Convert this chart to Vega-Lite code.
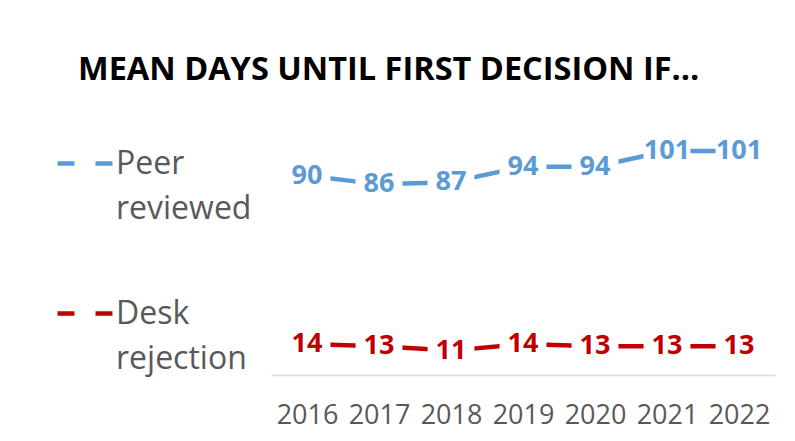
{
  "$schema": "https://vega.github.io/schema/vega-lite/v6.json",
  "autosize": "none",
  "width": 504,
  "height": 266,
  "padding": {"left": 271, "top": 109, "right": 20, "bottom": 66},
  "background": "white",
  "config": {
    "view": {"stroke": null},
    "font": "Open Sans"
  },
  "title": {
    "text": "MEAN DAYS UNTIL FIRST DECISION IF...",
    "anchor": "start",
    "frame": "group",
    "font": "Open Sans",
    "fontSize": 32.5,
    "fontWeight": "bold",
    "color": "#000000",
    "dx": -193,
    "dy": 31,
    "baseline": "alphabetic",
    "offset": 28
  },
  "data": {
    "values": [
      {"year": "2016", "series": "Peer reviewed", "value": 90},
      {"year": "2017", "series": "Peer reviewed", "value": 86},
      {"year": "2018", "series": "Peer reviewed", "value": 87},
      {"year": "2019", "series": "Peer reviewed", "value": 94},
      {"year": "2020", "series": "Peer reviewed", "value": 94},
      {"year": "2021", "series": "Peer reviewed", "value": 101},
      {"year": "2022", "series": "Peer reviewed", "value": 101},
      {"year": "2016", "series": "Desk rejection", "value": 14},
      {"year": "2017", "series": "Desk rejection", "value": 13},
      {"year": "2018", "series": "Desk rejection", "value": 11},
      {"year": "2019", "series": "Desk rejection", "value": 14},
      {"year": "2020", "series": "Desk rejection", "value": 13},
      {"year": "2021", "series": "Desk rejection", "value": 13},
      {"year": "2022", "series": "Desk rejection", "value": 13}
    ]
  },
  "encoding": {
    "x": {
      "field": "year",
      "type": "ordinal",
      "scale": {"type": "point", "padding": 0.5},
      "axis": {
        "title": null,
        "labelAngle": 0,
        "labelFont": "Open Sans",
        "labelFontSize": 27,
        "labelColor": "#595959",
        "labelPadding": 27,
        "ticks": false,
        "domainColor": "#D9D9D9",
        "domainWidth": 1.5,
        "grid": false
      }
    },
    "y": {
      "field": "value",
      "type": "quantitative",
      "scale": {"domain": [0, 120], "nice": false},
      "axis": null
    }
  },
  "layer": [
    {
      "mark": {"type": "line", "strokeWidth": 4.5, "strokeCap": "butt"},
      "encoding": {
        "color": {
          "field": "series",
          "type": "nominal",
          "scale": {"domain": ["Peer reviewed", "Desk rejection"], "range": ["#5B9BD5", "#C00000"]},
          "legend": {
            "orient": "none",
            "legendX": -216,
            "legendY": 24,
            "title": null,
            "symbolType": "stroke",
            "symbolSize": 3136,
            "symbolStrokeWidth": 4.5,
            "symbolDash": [17, 21],
            "labelFont": "Open Sans",
            "labelFontSize": 32,
            "labelColor": "#595959",
            "labelOffset": 0,
            "labelBaseline": "middle",
            "labelExpr": "datum.label == 'Peer reviewed' ? ['Peer', 'reviewed'] : ['Desk', 'rejection']",
            "rowPadding": 58,
            "labelLimit": 300,
            "encode": {"labels": {"update": {"lineHeight": {"value": 45}}}}
          }
        }
      }
    },
    {
      "mark": {"type": "point", "shape": "square", "filled": true, "size": 2200, "opacity": 1, "strokeWidth": 0},
      "encoding": {"color": {"value": "white"}}
    },
    {
      "mark": {"type": "text", "font": "Open Sans", "fontSize": 27, "fontWeight": "bold", "baseline": "middle"},
      "encoding": {
        "text": {"field": "value", "type": "quantitative"},
        "color": {
          "condition": {"test": "datum.series == 'Peer reviewed'", "value": "#5B9BD5"},
          "value": "#C00000"
        }
      }
    }
  ]
}
